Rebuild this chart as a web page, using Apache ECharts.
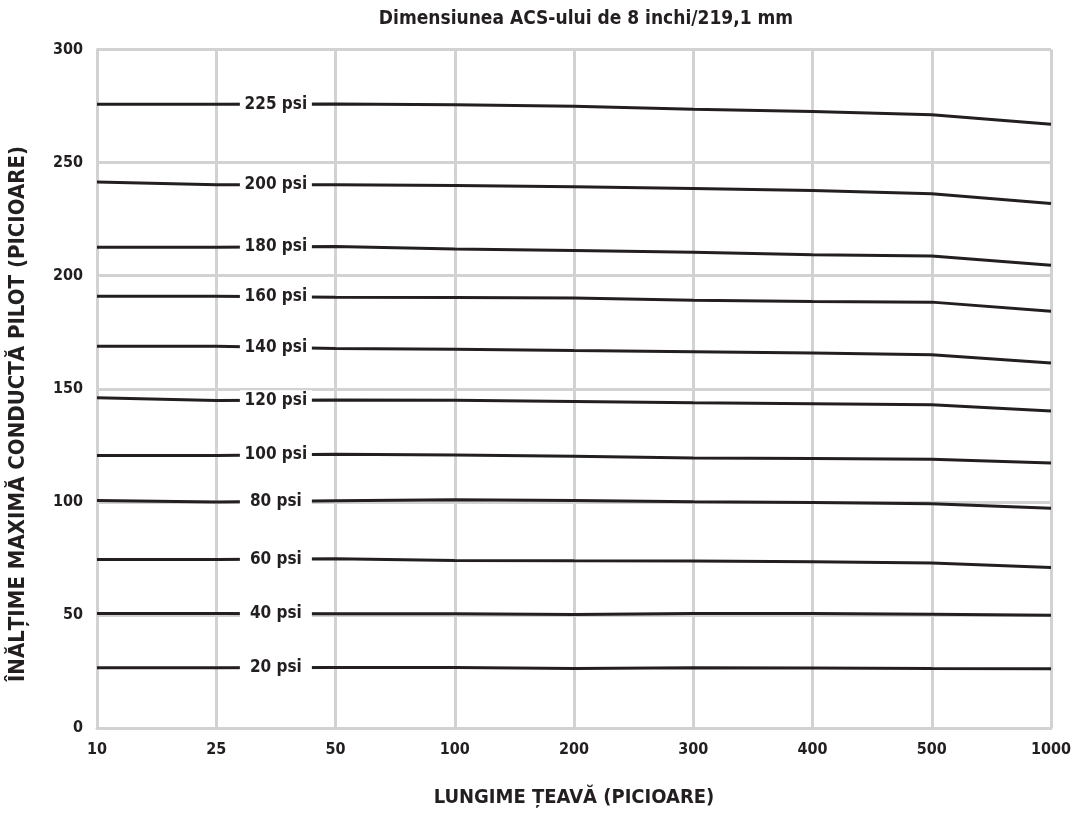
<!DOCTYPE html>
<html>
<head>
<meta charset="utf-8">
<script src="https://cdn.jsdelivr.net/npm/echarts@6/dist/echarts.min.js"></script>
<style>
  html, body { margin: 0; padding: 0; background: #ffffff; }
  #chart { width: 1076px; height: 813px; }
</style>
</head>
<body>
<div id="chart"></div>
<script>
// Pipe length categories (feet), evenly spaced along the bottom axis
const lengths = ['10', '25', '50', '100', '200', '300', '400', '500', '1000'];

// Maximum pilot line height (feet) for each supply pressure
const psi225 = [275.8, 275.8, 275.9, 275.6, 274.9, 273.6, 272.6, 271.2, 267.0];
const psi200 = [241.4, 240.2, 240.2, 239.9, 239.3, 238.5, 237.7, 236.2, 231.9];
const psi180 = [212.6, 212.6, 212.9, 211.8, 211.1, 210.4, 209.3, 208.7, 204.6];
const psi160 = [190.9, 190.9, 190.5, 190.4, 190.1, 189.1, 188.6, 188.3, 184.3];
const psi140 = [168.8, 168.8, 167.8, 167.5, 166.9, 166.4, 165.8, 165.0, 161.4];
const psi120 = [146.0, 144.8, 145.0, 144.9, 144.4, 143.8, 143.4, 142.9, 140.2];
const psi100 = [120.5, 120.5, 121.0, 120.7, 120.2, 119.4, 119.2, 118.8, 117.2];
const psi80  = [100.6, 99.9, 100.5, 100.9, 100.6, 100.0, 99.7, 99.2, 97.2];
const psi60  = [74.5, 74.5, 74.8, 74.1, 73.9, 73.8, 73.5, 73.0, 71.0];
const psi40  = [50.6, 50.6, 50.5, 50.5, 50.2, 50.6, 50.6, 50.3, 49.8];
const psi20  = [26.6, 26.6, 26.7, 26.7, 26.3, 26.6, 26.5, 26.3, 26.2];

const pressureNames = ['225 psi', '200 psi', '180 psi', '160 psi', '140 psi', '120 psi',
                       '100 psi', '80 psi', '60 psi', '40 psi', '20 psi'];
const pressureSeries = [psi225, psi200, psi180, psi160, psi140, psi120,
                        psi100, psi80, psi60, psi40, psi20];

const titleText = 'Dimensiunea ACS-ului de 8 inchi/219,1 mm';
const xTitle = 'LUNGIME ȚEAVĂ (PICIOARE)';
const yTitle = 'ÎNĂLȚIME MAXIMĂ CONDUCTĂ PILOT (PICIOARE)';

const FONT = '"Liberation Sans Narrow", "DejaVu Sans Condensed", "Liberation Sans", sans-serif';
const INK = '#231f20';
const GRID = '#d2d2d2';

const chart = echarts.init(document.getElementById('chart'), null, { renderer: 'canvas' });

const series = pressureSeries.map((vals, k) => {
  // label sits halfway between the 25 and 50 ft positions, on the line itself
  const mid = (vals[1] + vals[2]) / 2;
  return {
    type: 'line',
    name: pressureNames[k],
    data: vals.map((v, i) => [i, v]),
    showSymbol: false,
    symbol: 'none',
    lineStyle: { color: INK, width: 3 },
    z: 3,
    markPoint: {
      silent: true,
      symbol: 'rect',
      symbolSize: [72, 20],
      itemStyle: { color: '#ffffff' },
      label: {
        show: true,
        position: 'inside',
        formatter: '{b}',
        color: INK,
        fontFamily: FONT,
        fontWeight: 'bold',
        fontSize: 17
      },
      data: [{ name: pressureNames[k], coord: [1.5, mid] }]
    }
  };
});

chart.setOption({
  animation: false,
  backgroundColor: '#ffffff',
  title: {
    text: titleText,
    left: 581,
    top: 5,
    textAlign: 'center',
    textStyle: { fontFamily: FONT, fontWeight: 'bold', fontSize: 19, color: INK }
  },
  grid: { left: 97, right: 25, top: 49.5, bottom: 83.5, containLabel: false },
  xAxis: {
    type: 'value',
    min: 0,
    max: lengths.length - 1,
    interval: 1,
    name: xTitle,
    nameLocation: 'middle',
    nameGap: 60,
    nameTextStyle: { fontFamily: FONT, fontWeight: 'bold', fontSize: 20, color: INK },
    axisLine: { show: true, lineStyle: { color: GRID, width: 3 } },
    axisTick: { show: false },
    axisLabel: {
      margin: 14,
      color: INK,
      fontFamily: FONT,
      fontWeight: 'bold',
      fontSize: 16,
      formatter: v => lengths[v] !== undefined ? lengths[v] : ''
    },
    splitLine: { show: true, lineStyle: { color: GRID, width: 3 } }
  },
  yAxis: {
    type: 'value',
    min: 0,
    max: 300,
    interval: 50,
    axisLine: { show: true, lineStyle: { color: GRID, width: 3 } },
    axisTick: { show: false },
    axisLabel: {
      margin: 14,
      color: INK,
      fontFamily: FONT,
      fontWeight: 'bold',
      fontSize: 16
    },
    splitLine: { show: true, lineStyle: { color: GRID, width: 3 } }
  },
  graphic: [{
    type: 'text',
    x: 18,
    y: 414,
    rotation: Math.PI / 2,
    style: {
      text: yTitle,
      fill: INK,
      font: 'bold 22px ' + FONT,
      textAlign: 'center',
      textVerticalAlign: 'middle'
    }
  }],
  series: series
});
</script>
</body>
</html>
